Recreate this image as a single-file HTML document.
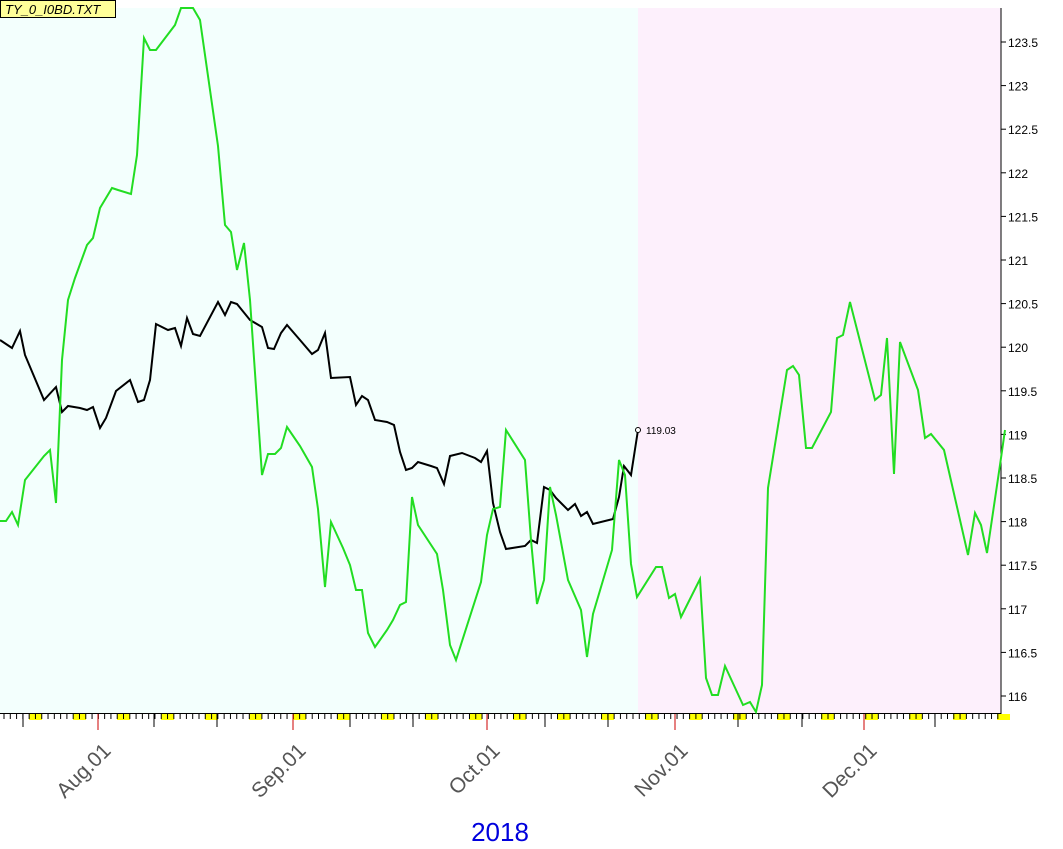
<!DOCTYPE html>
<html><head><meta charset="utf-8"><style>
html,body{margin:0;padding:0;background:#fff;}
svg{display:block;font-family:"Liberation Sans",Arial,sans-serif;}
</style></head><body>
<svg id="s" width="1063" height="849" xmlns="http://www.w3.org/2000/svg">
<rect x="0" y="8" width="638" height="706" fill="#f3fffd"/>
<rect x="638" y="8" width="363" height="706" fill="#fdf0fc"/>
<line x1="1001" y1="8" x2="1001" y2="714" stroke="#000"/>
<line x1="0" y1="713.5" x2="1001" y2="713.5" stroke="#000"/>
<g id="ax"></g>
<polyline fill="none" stroke="#000" stroke-width="2" points="0,340 12,348 20,331 25,355 44,400 56,387 62,412 68,406 80,408 87,410 93,407 100,428 106,418 116,391 130,380 138,402 144,400 150,380 156,324 168,330 175,328 181,346 187,318 193,334 200,336 218,302 225,315 231,302 237,304 250,320 262,327 268,348 274,349 281,333 287,325 300,340 312,354 318,350 325,333 331,378 350,377 356,405 362,396 368,400 375,420 387,422 394,425 400,452 406,470 412,468 418,462 431,466 437,468 444,484 450,456 462,453 475,458 481,462 487,451 493,503 500,532 506,549 525,546 531,540 537,543 544,487 550,490 556,498 562,504 568,510 575,504 581,516 587,512 593,524 613,519 619,497 624,466 631,475 638,430"/>
<polyline fill="none" stroke="#22dd22" stroke-width="2" points="0,521 6,521 12,512 18,525 25,480 44,456 50,450 56,503 62,360 68,300 75,278 87,245 93,238 100,208 112,188 118,190 131,194 137,155 144,38 150,50 156,50 175,25 181,8 193,8 200,20 218,146 225,225 231,232 237,270 244,243 250,300 262,475 268,454 275,454 281,448 287,427 300,446 312,467 318,509 325,587 331,522 343,548 350,565 356,590 362,590 368,633 375,647 387,630 393,620 400,605 406,602 412,497 418,525 437,554 443,590 450,645 456,660 481,582 487,535 493,509 500,507 506,430 525,460 531,540 537,604 544,580 550,487 556,515 568,580 581,610 587,657 593,614 612,550 619,460 625,475 631,564 637,597 656,567 662,567 669,598 675,594 681,617 700,579 706,678 712,695 718,695 725,666 743,705 750,702 756,712 762,685 768,488 787,370 793,366 799,375 806,448 812,448 831,412 837,338 843,335 850,302 875,400 881,395 887,338 894,474 900,342 918,390 925,438 931,434 944,450 968,555 975,513 981,525 987,553 1000,465 1005,430"/>
<circle cx="638" cy="430" r="2.5" fill="#fff" stroke="#000"/>
<text x="646" y="434" font-size="10">119.03</text>
<rect x="0.5" y="0.5" width="115" height="17" fill="#ffff99" stroke="#000"/>
<text x="5" y="14" font-size="13" font-style="italic">TY_0_I0BD.TXT</text>
<text x="500" y="841" font-size="26" fill="#0000dd" text-anchor="middle">2018</text>
</svg>
<script>
var g=document.getElementById('ax'),h='';
for(var v=116;v<=123.5;v+=0.5){var y=42+(123.5-v)*87.2;
h+='<line x1="1001" y1="'+y+'" x2="1006" y2="'+y+'" stroke="#000"/>';
h+='<text x="1008" y="'+(y+5)+'" font-size="12">'+v+'</text>';}
for(var k=0;k<23;k++){var x=29+44*k;if(x<1000)h+='<rect x="'+x+'" y="714" width="13" height="6" fill="#ffff00"/>';}
for(var k=0;k<160;k++){var x=4+6.29*k;if(x>1000)break;h+='<line x1="'+x+'" y1="714" x2="'+x+'" y2="719" stroke="#000"/>';}
[23,154,217,350,413,545,608,738,802,935].forEach(function(x){h+='<line x1="'+x+'" y1="714" x2="'+x+'" y2="727" stroke="#000"/>';});
var m=[[98,'Aug.01'],[293,'Sep.01'],[487,'Oct.01'],[675,'Nov.01'],[864,'Dec.01']];
m.forEach(function(a){var x=a[0];h+='<line x1="'+x+'" y1="714" x2="'+x+'" y2="730" stroke="#cc0000"/>';
h+='<text transform="translate('+(x+14)+',752) rotate(-45)" text-anchor="end" font-size="21" fill="#555">'+a[1]+'</text>';});
g.innerHTML=h;
</script>
</body></html>
